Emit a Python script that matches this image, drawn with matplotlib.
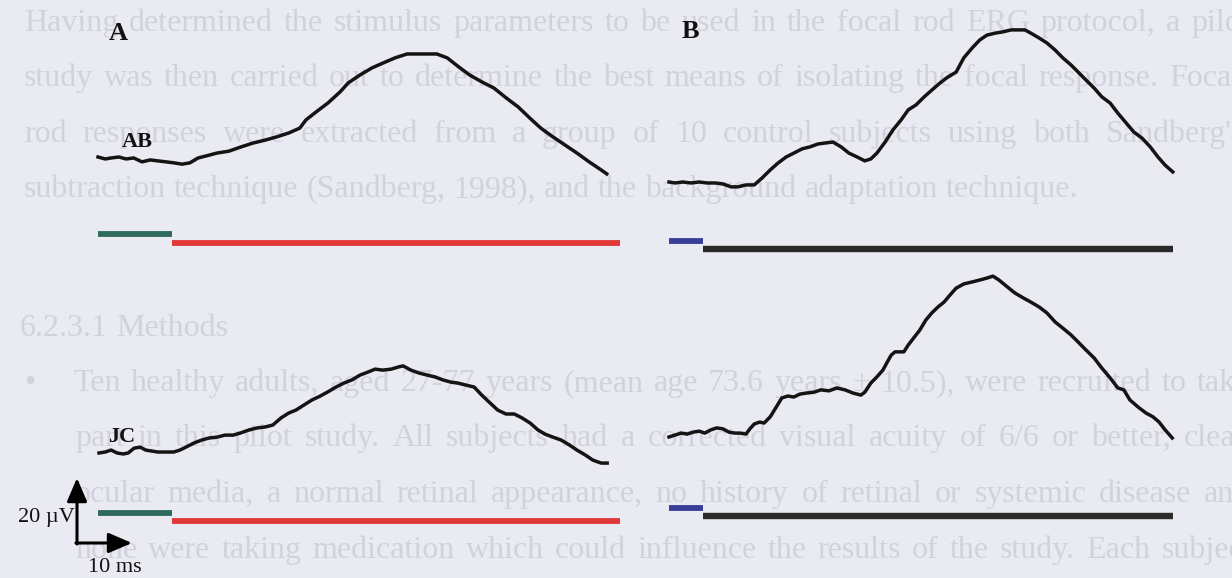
import matplotlib
matplotlib.use('Agg')
import matplotlib.pyplot as plt

# ERG traces: time from sweep start [ms], amplitude relative to first sample [uV]
abTime = [0, 1.3, 2.4, 3.8, 5.1, 6.5, 8.0, 9.5, 10.9, 12.4, 13.8, 15.3, 16.7, 18.2, 19.6,
          21.6, 23.8, 26.0, 28.2, 30.4, 32.5, 34.7, 36.7, 37.8, 39.6, 41.8, 44.0, 45.5,
          47.6, 49.8, 51.8, 54.0, 56.2, 58.4, 61.6, 63.5, 65.6, 67.6, 69.8, 72.0, 74.2,
          76.4, 78.5, 80.5, 82.7, 84.9, 87.1, 89.3, 91.5, 92.5]
abAmp = [0, -0.6, -0.3, 0, -0.6, -0.3, -1.5, -0.9, -1.2, -1.5, -1.8, -2.2, -1.8, -0.3, 0.3,
         1.2, 1.8, 3.1, 4.3, 5.2, 6.2, 7.4, 8.9, 11.4, 13.8, 16.6, 20.0, 22.8,
         25.2, 27.4, 28.9, 30.5, 31.7, 31.7, 31.7, 30.5, 27.7, 25.2, 23.1, 21.2, 18.2,
         15.4, 12.0, 8.9, 6.2, 3.7, 1.2, -1.5, -4.0, -5.2]

jcTime = [0, 1.1, 2.2, 3.3, 4.4, 5.3, 6.4, 7.5, 8.5, 9.6, 10.7, 12.2, 13.6, 14.7, 15.8,
          17.3, 18.7, 20.0, 21.5, 22.9, 24.4, 25.8, 27.3, 28.7, 30.2, 31.6, 33.1, 34.5,
          35.8, 37.3, 38.7, 40.2, 41.6, 43.1, 44.5, 46.0, 47.5, 48.9, 50.2, 51.6, 53.1,
          54.5, 55.3, 56.7, 58.2, 59.6, 61.1, 62.5, 64.0, 65.3, 66.7, 68.2, 69.6, 71.1,
          72.5, 74.0, 75.5, 76.9, 78.4, 79.8, 81.1, 82.5, 84.0, 85.5, 86.9, 88.4, 89.8,
          91.3, 92.4]
jcAmp = [0, 0.3, 0.9, 0, -0.3, 0, 1.5, 1.8, 0.9, 0.6, 0.3, 0.3, 0.3, 0.9, 1.8,
         3.1, 4.0, 4.6, 4.9, 5.5, 5.5, 6.2, 7.1, 7.7, 8.0, 8.6, 10.8, 12.3,
         13.2, 14.8, 16.3, 17.5, 18.8, 20.3, 21.5, 22.5, 24.0, 24.9, 25.8, 25.5, 25.8,
         26.5, 26.8, 25.5, 24.6, 24.0, 23.4, 22.5, 21.8, 21.5, 20.9, 20.3, 17.8, 15.4,
         13.2, 12.0, 12.0, 10.8, 9.2, 7.1, 5.8, 4.9, 4.0, 2.5, 0.9, -0.6, -2.2,
         -3.1, -3.1]

bTopTime = [0, 1.1, 2.5, 4.0, 5.5, 6.9, 8.4, 9.8, 11.3, 12.5, 14.0, 15.5, 16.9, 18.4,
            19.8, 21.3, 22.7, 24.2, 25.6, 27.1, 28.4, 29.8, 31.3, 32.7, 34.2, 35.6, 36.7,
            37.8, 39.3, 40.7, 42.2, 43.5, 44.9, 46.4, 47.8, 49.3, 50.7, 52.2, 53.6, 55.1,
            56.5, 57.8, 59.3, 60.7, 62.2, 64.7, 65.8, 67.3, 68.7, 70.2, 71.6, 73.1, 74.4,
            75.8, 77.3, 78.7, 80.2, 81.6, 83.1, 84.5, 86.0, 87.5, 88.9, 90.2, 91.6]
bTopAmp = [0, -0.3, 0, -0.3, 0, -0.3, -0.3, -0.6, -1.5, -1.5, -0.9, -0.9, 1.2, 3.7,
           5.8, 7.7, 8.9, 10.2, 10.8, 11.7, 12.0, 12.3, 10.8, 8.9, 7.7, 6.5, 7.1,
           8.9, 12.3, 16.0, 19.1, 22.2, 23.7, 26.2, 28.3, 30.5, 32.3, 33.8, 38.2, 41.2,
           43.7, 45.2, 45.8, 46.2, 46.8, 46.8, 45.8, 44.3, 42.8, 40.6, 38.2, 36.0, 33.8,
           31.4, 28.9, 26.2, 24.3, 21.2, 18.2, 15.4, 13.5, 10.8, 7.7, 5.2, 3.1]

bBotTime = [0, 1.1, 2.2, 3.3, 4.4, 5.5, 6.5, 7.6, 8.7, 9.8, 10.9, 12.0, 12.9, 14.0,
            14.7, 15.5, 16.5, 17.3, 18.4, 19.5, 20.5, 21.6, 22.7, 23.8, 24.9, 26.4, 27.6,
            29.1, 30.5, 32.0, 33.5, 34.9, 35.6, 36.7, 37.8, 38.9, 39.6, 40.4, 41.1, 42.2,
            42.7, 43.5, 44.5, 45.6, 46.7, 47.8, 48.9, 50.0, 51.1, 52.2, 53.6, 55.1, 56.5,
            57.8, 58.9, 60.0, 61.5, 62.9, 64.4, 65.8, 67.3, 68.7, 70.2, 71.6, 73.1, 74.4,
            75.8, 77.3, 78.7, 80.2, 81.6, 82.7, 83.8, 85.3, 86.7, 88.0, 89.1, 90.2, 91.5]
bBotAmp = [0, 0.6, 1.2, 0.9, 1.5, 1.8, 1.2, 2.2, 2.8, 2.5, 1.5, 1.2, 1.2, 0.9,
           2.5, 4.0, 4.6, 4.3, 6.2, 9.2, 12.0, 12.6, 12.3, 13.2, 13.5, 13.8, 14.5,
           14.2, 15.1, 14.5, 13.5, 12.9, 13.8, 16.6, 18.5, 20.6, 22.8, 25.2, 26.2, 26.2,
           26.2, 28.3, 30.5, 32.9, 36.0, 38.2, 40.0, 41.5, 43.7, 45.8, 47.1, 47.7, 48.3,
           48.9, 49.5, 48.3, 46.2, 44.3, 42.8, 41.5, 40.0, 38.2, 35.4, 33.5, 31.4, 29.2,
           26.8, 24.3, 21.2, 18.2, 15.1, 14.5, 11.4, 9.2, 7.4, 6.2, 4.6, 2.2, -0.3]

# stimulus timing bars [ms from sweep start]
condA = [0, 13.5]
testA = [13.5, 94.9]
condB = [0, 6.2]
testB = [6.2, 91.6]

# calibration
scaleUV = 20
scaleMS = 10

panelLabels = ['A', 'B']
subjectLabels = ['AB', 'JC']

bodyLines = [
    "Having determined the stimulus parameters to be used in the focal rod ERG protocol, a pilot",
    "study was then carried out to determine the best means of isolating the focal response. Focal",
    "rod responses were extracted from a group of 10 control subjects using both Sandberg's",
    "subtraction technique (Sandberg, 1998), and the background adaptation technique.",
    "6.2.3.1 Methods",
    "Ten healthy adults, aged 27-77 years (mean age 73.6 years \u00b1 10.5), were recruited to take",
    "part in this pilot study. All subjects had a corrected visual acuity of 6/6 or better, clear",
    "ocular media, a normal retinal appearance, no history of retinal or systemic disease and",
    "none were taking medication which could influence the results of the study. Each subject",
]

# layout (pixels)
W, H = 1232, 578
pxPerMs = 5.5
pxPerUV = 3.25
bg = '#EAEAF2'
faint = '#D2D2DC'
serif = ['Liberation Serif', 'DejaVu Serif']
bodySize = 23

fig = plt.figure(figsize=(W / 100, H / 100), dpi=100)
fig.patch.set_facecolor(bg)
ax = fig.add_axes([0, 0, 1, 1])
ax.set_xlim(0, W / pxPerMs)
ax.set_ylim(0, H / pxPerUV)
ax.set_facecolor('none')
ax.axis('off')

def px(x, y):
    # pixel position -> (ms, uV) axis coordinates
    return x / pxPerMs, (H - y) / pxPerUV

# faint bleed-through text from the page (justified)
renderer = fig.canvas.get_renderer()
def body_line(s, x0, x1, yb, justify=True):
    words = s.split()
    items = [fig.text(0, 0, w, fontsize=bodySize, family=serif, color=faint,
                      va='baseline', zorder=-1) for w in words]
    widths = [t.get_window_extent(renderer).width for t in items]
    gap = (x1 - x0 - sum(widths)) / (len(words) - 1) if justify else 8
    x = x0
    for t, wd in zip(items, widths):
        t.set_position((x / W, 1 - yb / H))
        x += wd + gap

body_line(bodyLines[0], 24, 1250, 31)
body_line(bodyLines[1], 24, 1240, 86)
body_line(bodyLines[2], 24, 1244, 142)
body_line(bodyLines[3], 24, 0, 197, justify=False)
body_line(bodyLines[4], 20, 0, 336, justify=False)
fig.text(24 / W, 1 - 391 / H, '\u2022', fontsize=bodySize, family=serif, color=faint,
         va='baseline', zorder=-1)
body_line(bodyLines[5], 73, 1250, 391)
body_line(bodyLines[6], 75, 1246, 446)
body_line(bodyLines[7], 75, 1250, 502)
body_line(bodyLines[8], 75, 1252, 558)

# traces
traceColor = '#141414'
traces = [(abTime, abAmp, (98, 157)), (jcTime, jcAmp, (99, 453)),
          (bTopTime, bTopAmp, (669, 182)), (bBotTime, bBotAmp, (669, 437))]
for t, a, (x0, y0) in traces:
    t0, v0 = px(x0, y0)
    ax.plot([t0 + v for v in t], [v0 + v for v in a], color=traceColor, lw=2.5,
            solid_joinstyle='round')

# stimulus bars
def bar(span, x0, y, color, lw):
    t0, v = px(x0, y)
    ax.plot([t0 + span[0], t0 + span[1]], [v, v], color=color, lw=lw,
            solid_capstyle='butt')

for yc, yt in [(234, 243), (513, 521)]:
    bar(condA, 98, yc, '#2F6B5B', 4.2)
    bar(testA, 98, yt, '#E03838', 4.2)
for yc, yt in [(241, 249), (508, 516)]:
    bar(condB, 669, yc, '#3A3E96', 4.2)
    bar(testB, 669, yt, '#2A2A2A', 4.6)

# calibration arrows
cx, cy = px(77, 543)
arrow = dict(arrowstyle='-|>,head_length=0.42,head_width=0.18', color='black',
             lw=2.2, mutation_scale=34, shrinkA=0, shrinkB=0)
ax.annotate('', xy=(cx, cy + scaleUV), xytext=(cx, cy - 0.3), arrowprops=arrow)
ax.annotate('', xy=(cx + scaleMS, cy), xytext=(cx - 0.2, cy), arrowprops=arrow)
ax.text(*px(75, 522), '%d \u00b5V' % scaleUV, fontsize=16, family=serif,
        ha='right', va='baseline', color='#111111')
ax.text(*px(115, 572), '%d ms' % scaleMS, fontsize=16, family=serif,
        ha='center', va='baseline', color='#111111')

# labels
ax.text(*px(118, 40), panelLabels[0], fontsize=19, family=serif, weight='bold',
        ha='center', va='baseline', color='#111111')
ax.text(*px(690, 38), panelLabels[1], fontsize=19, family=serif, weight='bold',
        ha='center', va='baseline', color='#111111')
ax.text(*px(137, 147), subjectLabels[0], fontsize=16, family=serif, weight='bold',
        ha='center', va='baseline', color='#111111')
ax.text(*px(122, 442), subjectLabels[1], fontsize=16, family=serif, weight='bold',
        ha='center', va='baseline', color='#111111')

fig.savefig('out.png', dpi=100, facecolor=bg)
